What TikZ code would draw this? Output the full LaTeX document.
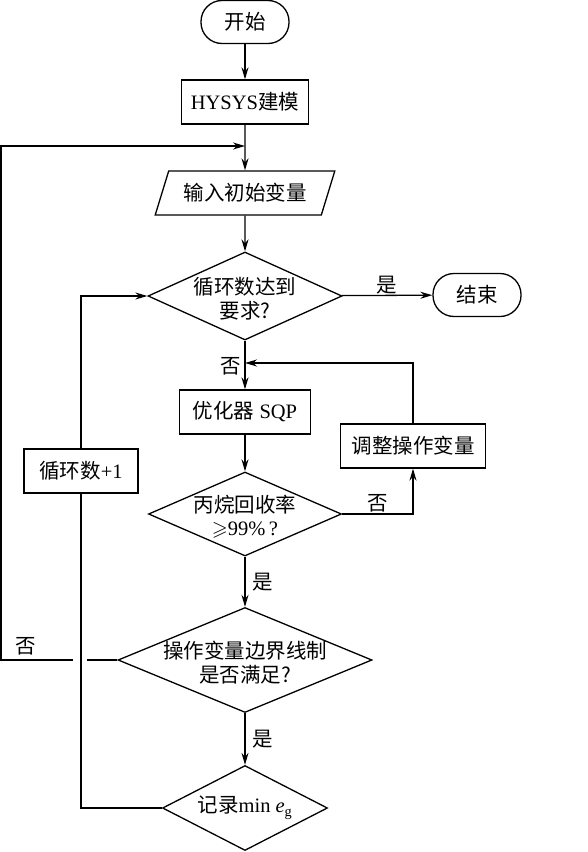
\documentclass[tikz,border=0pt]{standalone}
\usepackage{fontspec}
\usepackage{amssymb}
\setmainfont{Liberation Serif}
\newfontfamily\zh{Noto Sans CJK SC}
\usetikzlibrary{shapes.geometric,arrows.meta}

% text of a decision, kept out of the diamond's size
\newcommand{\dtext}[2][-5bp]{\makebox[0pt]{\raisebox{#1}[\height][\depth]{\begin{tabular}{@{}c@{}}#2\end{tabular}}}}

\tikzset{
  every node/.style={font=\fontsize{20.5bp}{23bp}\selectfont},
  line/.style={line width=1.3bp},
  arr/.style={line, -{Stealth[length=12bp,width=7bp]}},
  terminal/.style={draw, line, rounded corners=21bp, minimum width=88bp, minimum height=43bp},
  process/.style={draw, line, rectangle, minimum height=44bp},
  io/.style={draw, line, trapezium, trapezium left angle=66, trapezium right angle=114,
    trapezium stretches=true, minimum width=180bp, minimum height=44bp},
  decide/.style={draw, line, diamond, inner sep=0pt},
  tag/.style={inner sep=1bp}
}

\begin{document}
\begin{tikzpicture}[x=1bp, y=-1bp]
	\useasboundingbox (0,0) rectangle (588,852);
	
	% Hauptkette
	\node[terminal] (start) at (245,22) {\zh 开始};
	\node[process, minimum width=127bp] (model) at (245,102) {HYSYS{\zh 建模}};
	\node[io] (input) at (245,193) {\zh 输入初始变量};
	\node[decide, minimum width=194bp, minimum height=88bp] (loopchk) at (245,296) {\dtext{\zh 循环数达到\\\zh 要求?}};
	\node[terminal] (stop) at (477,295) {\zh 结束};
	\node[process, minimum width=131bp] (sqp) at (245,412) {{\zh 优化器} SQP};
	\node[process, minimum width=145bp] (adjust) at (413,446) {\zh 调整操作变量};
	\node[process, minimum width=114bp] (count) at (81,471) {{\zh 循环数}+1};
	\node[decide, minimum width=193bp, minimum height=84bp] (recov) at (245,514) {\dtext{\zh 丙烷回收率\\$\geqslant$99\%\,?}};
	\node[decide, minimum width=254bp, minimum height=105bp] (bound) at (245,660) {\dtext{\zh 操作变量边界线制\\\zh 是否满足?}};
	\node[decide, minimum width=165bp, minimum height=85bp] (record) at (245,808) {\dtext[0bp]{{\zh 记录}min {\itshape e}\textsubscript{g}}};
	
	% Hilfspunkte
	\coordinate (merge1) at (245,146);
	\coordinate (merge2) at (245,363);
	\coordinate (gapR) at (87,660);
	\coordinate (gapL) at (73,660);
	\coordinate (edgeB) at (1,660);
	\coordinate (edgeT) at (1,146);
	
	% Verbindungen
	\draw[arr] (start) -- (model);
	\draw[arr] (model) -- (input);
	\draw[arr] (input) -- (loopchk);
	\draw[arr] (loopchk) -- node[tag, above] (yes1) {\zh 是} (stop);
	\draw[arr] (loopchk) -- (sqp);
	\node[tag, left] (no1) at (242,366) {\zh 否};
	\draw[arr] (sqp) -- (recov);
	\draw[arr] (recov.east) -| node[tag, above, pos=0.25] (no2) {\zh 否} (adjust.south);
	\draw[arr] (adjust.north) |- (merge2);
	\draw[arr] (recov) -- node[tag, right=6bp] (yes2) {\zh 是} (bound);
	\draw[arr] (bound) -- node[tag, right=6bp] (yes3) {\zh 是} (record);
	
	% Ruecksprung bei Verletzung
	\draw[line] (bound.west) -- (gapR);
	\draw[arr] (gapL) -- (edgeB) -- (edgeT) -- (merge1);
	\node[tag] (no3) at (26,646) {\zh 否};
	
	% Schleifenzaehler
	\draw[line] (record.west) -| (count.south);
	\draw[arr] (count.north) |- (loopchk.west);
\end{tikzpicture}
\end{document}
